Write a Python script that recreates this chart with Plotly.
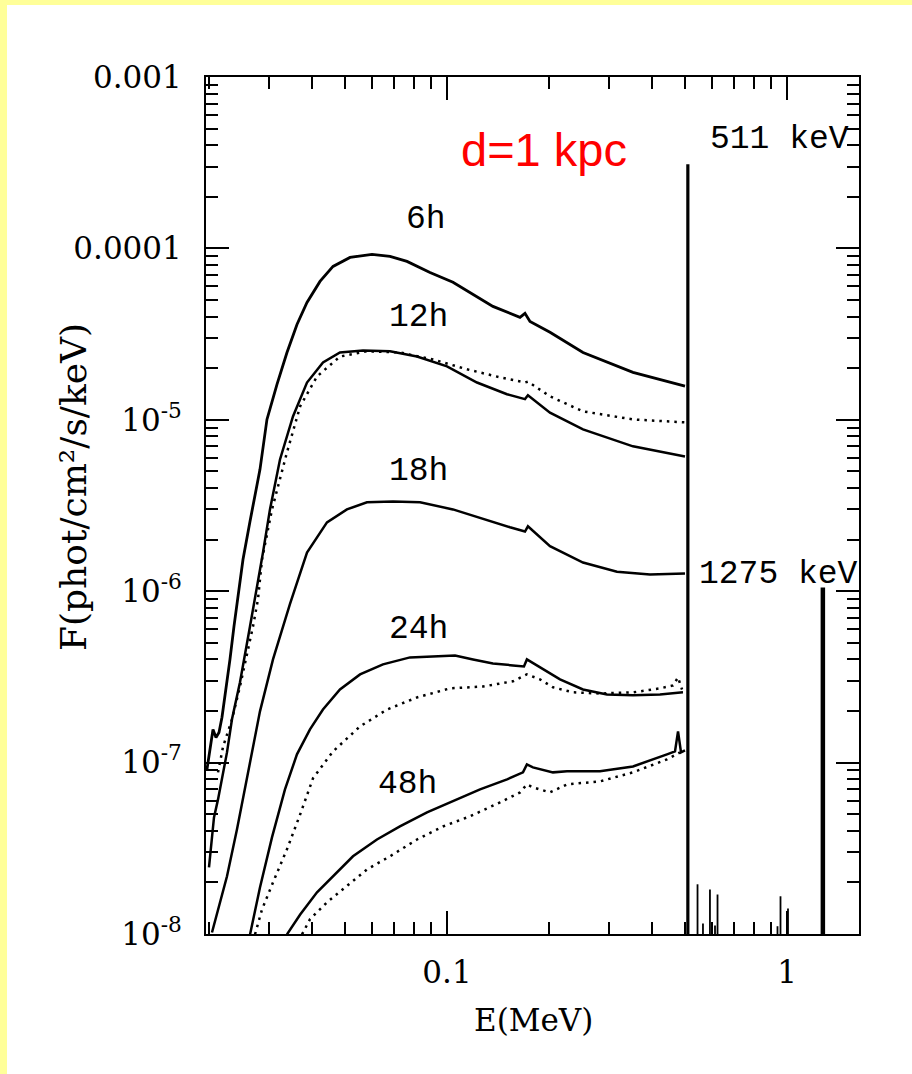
import numpy as np
import plotly.graph_objects as go

# ---------------- data ----------------
# 6 h (solid)
E_6h = [0.019683, 0.020088, 0.020500, 0.020921, 0.021350, 0.021789, 0.022387, 0.022999,
        0.023631, 0.024280, 0.025119, 0.026336, 0.028184, 0.029545, 0.031623, 0.033837,
        0.036207, 0.038747, 0.042312, 0.046218, 0.051858, 0.060176, 0.067984, 0.076276,
        0.089125, 0.10415, 0.13650, 0.16394, 0.16958, 0.17542, 0.20088, 0.25119, 0.35236, 0.50119]
F_6h = [9.13e-8, 1.16e-7, 1.56e-7, 1.40e-7, 1.50e-7, 1.84e-7, 2.67e-7, 4.0e-7,
        6.23e-7, 9.58e-7, 1.53e-6, 2.55e-6, 5.14e-6, 1.005e-5, 1.61e-5, 2.47e-5,
        3.60e-5, 4.84e-5, 6.42e-5, 7.85e-5, 8.86e-5, 9.23e-5, 8.98e-5, 8.40e-5,
        7.24e-5, 6.34e-5, 4.59e-5, 3.96e-5, 4.18e-5, 3.75e-5, 3.24e-5, 2.47e-5, 1.89e-5, 1.57e-5]

# 12 h (solid)
E_12h = [0.019953, 0.020225, 0.020640, 0.021210, 0.021789, 0.022539, 0.023313, 0.024613,
         0.026336, 0.027245, 0.028761, 0.030152, 0.032273, 0.035237, 0.038747, 0.043182,
         0.048441, 0.056616, 0.067984, 0.081621, 0.1, 0.12252, 0.15012, 0.16958, 0.17302,
         0.20088, 0.25119, 0.35236, 0.50119]
F_12h = [2.45e-8, 3.12e-8, 4.79e-8, 6.10e-8, 7.98e-8, 1.147e-7, 1.79e-7, 2.94e-7,
         6.23e-7, 8.96e-7, 1.68e-6, 3.0e-6, 5.87e-6, 1.046e-5, 1.65e-5, 2.16e-5,
         2.47e-5, 2.54e-5, 2.51e-5, 2.34e-5, 2.05e-5, 1.65e-5, 1.41e-5, 1.32e-5, 1.39e-5,
         1.10e-5, 8.79e-6, 7.0e-6, 6.11e-6]

# 12 h (dotted)
E_12h_d = [0.02121, 0.02195, 0.02332, 0.02461, 0.02688, 0.0278, 0.02857, 0.03057, 0.03383,
           0.0370, 0.04147, 0.04844, 0.05816, 0.0727, 0.09095, 0.1145, 0.1432, 0.1696, 0.173,
           0.2009, 0.2512, 0.3524, 0.5012]
F_12h_d = [8.77e-8, 1.24e-7, 1.79e-7, 2.78e-7, 6.23e-7, 8.95e-7, 1.53e-6, 3.0e-6, 6.45e-6,
           1.2e-5, 1.79e-5, 2.34e-5, 2.51e-5, 2.47e-5, 2.25e-5, 1.97e-5, 1.77e-5, 1.65e-5, 1.67e-5,
           1.37e-5, 1.12e-5, 1.005e-5, 9.66e-6]

# 18 h (solid)
E_18h = [0.02036, 0.0215, 0.02254, 0.02412, 0.02635, 0.02818, 0.03078, 0.0345, 0.03875,
         0.04436, 0.05078, 0.05816, 0.06938, 0.0833, 0.1041, 0.1276, 0.1532, 0.1696, 0.173,
         0.2009, 0.2512, 0.3162, 0.3954, 0.5012]
F_18h = [1.02e-8, 1.53e-8, 2.17e-8, 4.08e-8, 9.76e-8, 1.99e-7, 4.0e-7, 8.38e-7, 1.68e-6,
         2.52e-6, 3.0e-6, 3.30e-6, 3.34e-6, 3.30e-6, 3.0e-6, 2.63e-6, 2.36e-6, 2.23e-6, 2.39e-6,
         1.83e-6, 1.47e-6, 1.30e-6, 1.25e-6, 1.27e-6]

# 24 h (solid)
E_24h = [0.02635, 0.02818, 0.03057, 0.03338, 0.0362, 0.03954, 0.04317, 0.04844, 0.0555,
         0.06483, 0.07783, 0.09095, 0.1056, 0.1193, 0.1365, 0.1563, 0.1684, 0.1718, 0.1877,
         0.2150, 0.2512, 0.2955, 0.3524, 0.4231, 0.4944]
F_24h = [9.95e-9, 1.87e-8, 3.66e-8, 6.98e-8, 1.117e-7, 1.562e-7, 2.04e-7, 2.67e-7, 3.27e-7,
         3.74e-7, 4.11e-7, 4.16e-7, 4.22e-7, 4.0e-7, 3.79e-7, 3.69e-7, 3.64e-7, 4.0e-7, 3.59e-7,
         3.06e-7, 2.67e-7, 2.50e-7, 2.47e-7, 2.50e-7, 2.57e-7]

# 24 h (dotted)
E_24h_d = [0.02725, 0.02857, 0.03078, 0.03383, 0.0370, 0.04035, 0.04622, 0.0555, 0.06661,
           0.08162, 0.1020, 0.1276, 0.1563, 0.1718, 0.1877, 0.2050, 0.2348, 0.2818, 0.3524,
           0.4231, 0.4622, 0.4781, 0.4913]
F_24h_d = [9.95e-9, 1.39e-8, 2.0e-8, 3.12e-8, 4.99e-8, 8.09e-8, 1.163e-7, 1.626e-7, 2.04e-7,
           2.40e-7, 2.71e-7, 2.78e-7, 2.98e-7, 3.27e-7, 3.06e-7, 2.75e-7, 2.57e-7, 2.53e-7, 2.57e-7,
           2.71e-7, 2.82e-7, 3.14e-7, 2.67e-7]

# 48 h (solid)
E_48h = [0.03383, 0.0370, 0.04147, 0.04622, 0.05291, 0.06224, 0.0727, 0.08735, 0.1041,
         0.1251, 0.1502, 0.1673, 0.1718, 0.179, 0.2050, 0.2254, 0.2818, 0.3524, 0.4436,
         0.4684, 0.4781, 0.4879, 0.5012]
F_48h = [9.95e-9, 1.30e-8, 1.75e-8, 2.17e-8, 2.84e-8, 3.56e-8, 4.24e-8, 5.12e-8, 5.94e-8,
         6.98e-8, 7.98e-8, 8.77e-8, 9.76e-8, 9.38e-8, 8.77e-8, 8.89e-8, 8.89e-8, 9.5e-8, 1.117e-7,
         1.163e-7, 1.52e-7, 1.147e-7, 1.178e-7]

# 48 h (dotted)
E_48h_d = [0.03747, 0.03954, 0.04436, 0.05078, 0.05816, 0.06798, 0.08162, 0.09732, 0.1169,
           0.1432, 0.164, 0.1718, 0.179, 0.2009, 0.2107, 0.2254, 0.2818, 0.3524, 0.4436, 0.4844]
F_48h_d = [9.95e-9, 1.22e-8, 1.53e-8, 1.90e-8, 2.38e-8, 2.84e-8, 3.56e-8, 4.24e-8, 4.86e-8,
           5.86e-8, 6.70e-8, 7.46e-8, 7.17e-8, 6.70e-8, 6.98e-8, 7.46e-8, 7.77e-8, 8.77e-8,
           1.044e-7, 1.147e-7]

# gamma-ray lines (MeV) and their peak flux
line_E = [0.511, 1.275]
line_peak = [3.1e-4, 1.05e-6]
line_names = ["511 keV", "1275 keV"]

# weak lines near the bottom of the plot
weak_E = [0.5456, 0.5661, 0.5935, 0.6142, 0.6247, 0.9377, 0.957, 1.0068]
weak_F = [1.95e-8, 1.15e-8, 1.82e-8, 1.12e-8, 1.70e-8, 1.11e-8, 1.66e-8, 1.41e-8]

# curve labels
epoch_labels = ["6h", "12h", "18h", "24h", "48h"]
epoch_label_E = [0.0867, 0.0827, 0.0827, 0.0822, 0.0763]
epoch_label_F = [1.476e-4, 3.96e-5, 5.0e-6, 5.99e-7, 7.46e-8]

line_label_E = [0.9537, 0.9473]
line_label_F = [4.33e-4, 1.25e-6]

y_tickvals = [1e-3, 1e-4, 1e-5, 1e-6, 1e-7, 1e-8]
y_ticktext = ["0.001", "0.0001", "10<sup>-5</sup>", "10<sup>-6</sup>", "10<sup>-7</sup>", "10<sup>-8</sup>"]
x_tickvals = [0.1, 1]
x_ticktext = ["0.1", "1"]

# ---------------- figure ----------------
W, H = 912, 1074
ML, MR, MT, MB = 206, 53, 77, 140
PW, PH = W - ML - MR, H - MT - MB
FLOOR = 3e-9

fig = go.Figure()

def curve(E, F, dotted=False, width=2.5):
    fig.add_trace(go.Scatter(
        x=E, y=F, mode="lines", showlegend=False, hoverinfo="skip",
        line=dict(color="black", width=width, dash="2.5px,5px" if dotted else "solid")))

curve(E_6h, F_6h, width=2.8)
curve(E_12h, F_12h)
curve(E_12h_d, F_12h_d, dotted=True)
curve(E_18h, F_18h)
curve(E_24h, F_24h)
curve(E_24h_d, F_24h_d, dotted=True)
curve(E_48h, F_48h)
curve(E_48h_d, F_48h_d, dotted=True)

# strong lines
for e, p, w in zip(line_E, line_peak, [3.2, 4.5]):
    fig.add_trace(go.Scatter(x=[e, e], y=[FLOOR, p], mode="lines", showlegend=False,
                             hoverinfo="skip", line=dict(color="black", width=w)))

# weak lines
wx, wy = [], []
for e, f in zip(weak_E, weak_F):
    wx += [e, e, None]
    wy += [FLOOR, f, None]
fig.add_trace(go.Scatter(x=wx, y=wy, mode="lines", showlegend=False, hoverinfo="skip",
                         line=dict(color="black", width=1.8)))

mono = "Liberation Mono"
serif = "DejaVu Serif"

annotations = []
for t, e, f in zip(epoch_labels, epoch_label_E, epoch_label_F):
    annotations.append(dict(x=np.log10(e), y=np.log10(f), xref="x", yref="y", text=t,
                            showarrow=False, font=dict(family=mono, size=33, color="black"),
                            xanchor="center", yanchor="middle"))
for t, e, f in zip(line_names, line_label_E, line_label_F):
    annotations.append(dict(x=np.log10(e), y=np.log10(f), xref="x", yref="y", text=t,
                            showarrow=False, font=dict(family=mono, size=33, color="black"),
                            xanchor="center", yanchor="middle"))
annotations.append(dict(x=np.log10(0.1929), y=np.log10(3.78e-4), xref="x", yref="y",
                        text="d=1 kpc", showarrow=False,
                        font=dict(family="Liberation Sans", size=47, color="#FF0000"),
                        xanchor="center", yanchor="middle"))
# axis titles
annotations.append(dict(x=(533 - ML) / PW, y=(H - MB - 1020) / PH, xref="paper", yref="paper",
                        text="E(MeV)", showarrow=False,
                        font=dict(family=serif, size=31, color="black"),
                        xanchor="center", yanchor="middle"))
annotations.append(dict(x=(73 - ML) / PW, y=(H - MB - 487) / PH, xref="paper", yref="paper",
                        text="F(phot/cm²/s/keV)", showarrow=False, textangle=-90,
                        font=dict(family=serif, size=36, color="black"),
                        xanchor="center", yanchor="middle"))

x_minor = [k * 10.0 ** d for d in (-2, -1, 0) for k in range(2, 10)]
y_minor = [k * 10.0 ** d for d in range(-8, -3) for k in range(2, 10)]

axis_common = dict(type="log", showgrid=False, zeroline=False, showline=True,
                   linecolor="black", linewidth=2, mirror="allticks",
                   ticks="inside", ticklen=23, tickwidth=2, tickcolor="black",
                   tickfont=dict(family=serif, size=31, color="black"))

fig.update_xaxes(range=[-1.7088, 0.2118], tickvals=x_tickvals, ticktext=x_ticktext,
                 ticklabelstandoff=10,
                 minor=dict(tickvals=x_minor, ticks="inside", ticklen=12, tickwidth=2,
                            tickcolor="black", showgrid=False),
                 **axis_common)
fig.update_yaxes(range=[-8, -3], tickvals=y_tickvals, ticktext=y_ticktext,
                 ticklabelstandoff=16,
                 minor=dict(tickvals=y_minor, ticks="inside", ticklen=12, tickwidth=2,
                            tickcolor="black", showgrid=False),
                 **axis_common)

# yellow slide border (left and top strips)
shapes = [
    dict(type="rect", xref="paper", yref="paper", x0=(-20 - ML) / PW, x1=(7 - ML) / PW,
         y0=(H - MB - 1100) / PH, y1=(H - MB + 20) / PH, fillcolor="#FFFF99", line_width=0,
         layer="below"),
    dict(type="rect", xref="paper", yref="paper", x0=(-20 - ML) / PW, x1=(940 - ML) / PW,
         y0=(H - MB - 5) / PH, y1=(H - MB + 20) / PH, fillcolor="#FFFF99", line_width=0,
         layer="below"),
]

fig.update_layout(width=W, height=H, margin=dict(l=ML, r=MR, t=MT, b=MB, autoexpand=False),
                  paper_bgcolor="white", plot_bgcolor="white",
                  annotations=annotations, shapes=shapes, showlegend=False)

fig.write_html("out.html", config={"displayModeBar": False},
               post_script="document.body.style.margin='0px';document.body.style.padding='0px';")
